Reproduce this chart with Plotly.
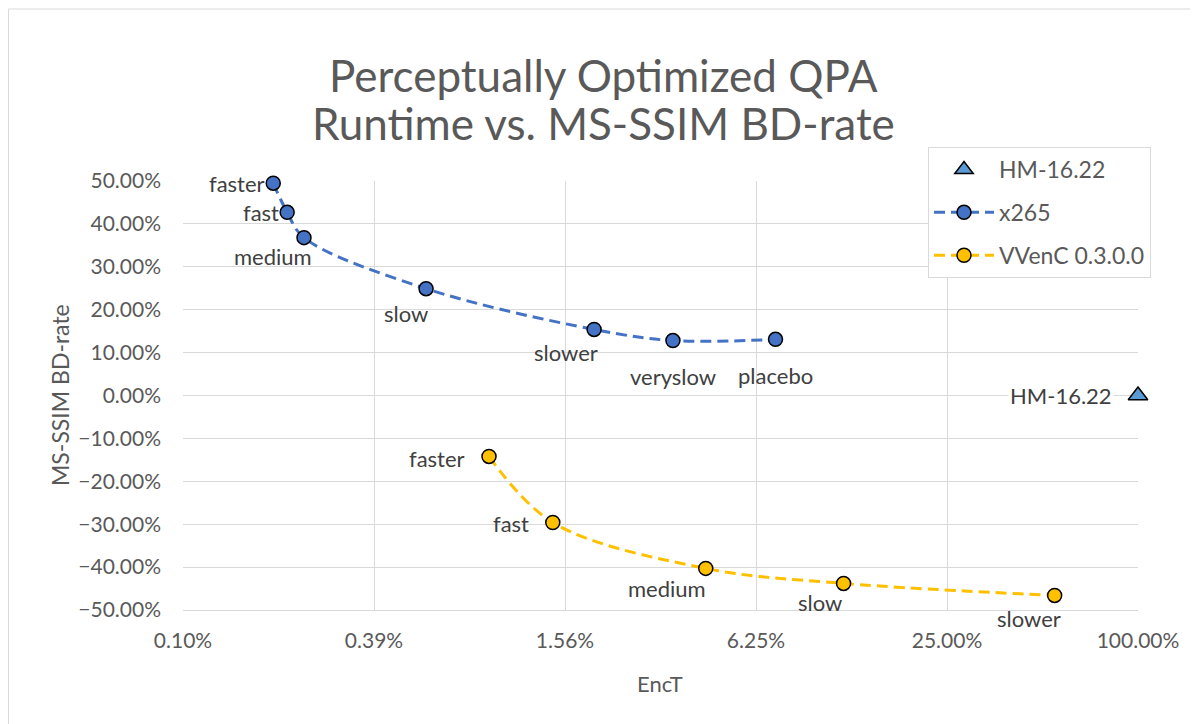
import math
import plotly.graph_objects as go

# ---- data ----
x265_presets = ["faster", "fast", "medium", "slow", "slower", "veryslow", "placebo"]
x265_enct = [0.00188, 0.00208, 0.00235, 0.0057, 0.0193, 0.0342, 0.072]
x265_bdrate = [0.495, 0.427, 0.368, 0.249, 0.154, 0.128, 0.131]

vvenc_presets = ["faster", "fast", "medium", "slow", "slower"]
vvenc_enct = [0.0090, 0.0143, 0.0434, 0.118, 0.546]
vvenc_bdrate = [-0.142, -0.296, -0.403, -0.438, -0.466]

hm_label = ["HM-16.22"]
hm_enct = [1.0]
hm_bdrate = [0.0]

x_tickvals = [4 ** -5, 4 ** -4, 4 ** -3, 4 ** -2, 4 ** -1, 1.0]
x_ticktext = ["0.10%", "0.39%", "1.56%", "6.25%", "25.00%", "100.00%"]

# ---- styling ----
FONT = "Lato"
TXT = "#595959"
LBL = "#404040"
GRID = "#d9d9d9"
BLUE = "#4472C4"
YEL = "#FFC000"
TRI = "#5B9BD5"
DASH = "11px,6px"

OFF = 8  # page body margin offset
W, H = 1198 - OFF, 724 - OFF
ML, MT = 183 - OFF, 181 - OFF
MR = W - (1138 - OFF)
MB = H - (610 - OFF)
PW, PH = W - ML - MR, H - MT - MB


def px2paper(px, py):
    # px, py given in screenshot coordinates
    return (px - OFF - ML) / PW, (H - MB - (py - OFF)) / PH


fig = go.Figure()

fig.add_trace(go.Scatter(
    x=hm_enct, y=hm_bdrate, mode="markers", name="HM-16.22",
    legendgroup="a",
    marker=dict(symbol="triangle-up", size=17, color=TRI,
                line=dict(color="black", width=1.5)),
    cliponaxis=False,
))
fig.add_trace(go.Scatter(
    x=x265_enct, y=x265_bdrate, mode="lines+markers", name="x265",
    legendgroup="b",
    line=dict(color=BLUE, width=3, dash=DASH, shape="spline"),
    marker=dict(symbol="circle", size=14, color=BLUE,
                line=dict(color="black", width=1.5)),
    cliponaxis=False,
))
fig.add_trace(go.Scatter(
    x=vvenc_enct, y=vvenc_bdrate, mode="lines+markers", name="VVenC 0.3.0.0",
    legendgroup="c",
    line=dict(color=YEL, width=3, dash=DASH, shape="spline"),
    marker=dict(symbol="circle", size=14, color=YEL,
                line=dict(color="black", width=1.5)),
    cliponaxis=False,
))

annotations = []

# data labels: (xanchor, xshift, yshift)
x265_off = [("right", -6, 0), ("right", -6, 0), ("center", -31, -19),
            ("center", -20, -25), ("center", -28, -23), ("center", 0, -36),
            ("center", 0, -36)]
vvenc_off = [("right", -22, -2), ("right", -22, -1), ("center", -39, -20),
             ("center", -24, -19), ("center", -26, -23)]

LBLSIZE = 22
for names, xs, ys, offs in [(x265_presets, x265_enct, x265_bdrate, x265_off),
                            (vvenc_presets, vvenc_enct, vvenc_bdrate, vvenc_off)]:
    for n, xv, yv, (xa, dx, dy) in zip(names, xs, ys, offs):
        annotations.append(dict(
            x=math.log10(xv), y=yv, xref="x", yref="y", text=n,
            showarrow=False, xanchor=xa, yanchor="middle",
            xshift=dx, yshift=dy,
            font=dict(family=FONT, size=LBLSIZE, color=LBL),
        ))

for n, xv, yv in zip(hm_label, hm_enct, hm_bdrate):
    annotations.append(dict(
        x=math.log10(xv), y=yv, xref="x", yref="y", text=n,
        showarrow=False, xanchor="right", yanchor="middle",
        xshift=-24, yshift=0, bgcolor="white",
        font=dict(family=FONT, size=LBLSIZE, color=LBL),
    ))

# title (two lines)
for line, cy in [("Perceptually Optimized QPA", 75),
                 ("Runtime vs. MS-SSIM BD-rate", 123)]:
    px, py = px2paper(603, cy)
    annotations.append(dict(
        x=px, y=py, xref="paper", yref="paper", text=line, showarrow=False,
        xanchor="center", yanchor="middle",
        font=dict(family=FONT, size=44, color=TXT),
    ))

# axis titles
px, py = px2paper(660, 683)
annotations.append(dict(x=px, y=py, xref="paper", yref="paper", text="EncT",
                        showarrow=False, xanchor="center", yanchor="middle",
                        font=dict(family=FONT, size=22, color=TXT)))
px, py = px2paper(60, 395)
annotations.append(dict(x=px, y=py, xref="paper", yref="paper",
                        text="MS-SSIM BD-rate", textangle=-90,
                        showarrow=False, xanchor="center", yanchor="middle",
                        font=dict(family=FONT, size=23, color=TXT)))

# outer chart border
bx0, by0 = px2paper(8.5, 9)
bx1, by1 = px2paper(1210, 740)
shapes = [dict(type="rect", xref="paper", yref="paper",
               x0=bx0, y0=by1, x1=bx1, y1=by0,
               line=dict(color=GRID, width=1), layer="below")]

lx, ly = px2paper(928, 147)

fig.update_layout(
    width=W, height=H,
    margin=dict(l=ML, r=MR, t=MT, b=MB, pad=0),
    paper_bgcolor="white", plot_bgcolor="white",
    font=dict(family=FONT, color=TXT),
    annotations=annotations,
    shapes=shapes,
    xaxis=dict(
        type="log",
        range=[math.log10(4 ** -5), 0],
        tickvals=x_tickvals, ticktext=x_ticktext,
        showgrid=True, gridcolor=GRID, gridwidth=1,
        showline=True, linecolor=GRID, linewidth=1,
        zeroline=False, ticks="",
        tickfont=dict(family=FONT, size=21, color=TXT),
        ticklabelstandoff=12,
    ),
    yaxis=dict(
        range=[-0.5, 0.5], dtick=0.1, tick0=0,
        tickformat=".2%",
        showgrid=True, gridcolor=GRID, gridwidth=1,
        showline=False, zeroline=False, ticks="",
        tickfont=dict(family=FONT, size=21, color=TXT),
        ticklabelstandoff=21,
    ),
    legend=dict(
        x=lx, y=ly, xanchor="left", yanchor="top",
        bordercolor=GRID, borderwidth=1, bgcolor="white",
        font=dict(family=FONT, size=23, color=TXT),
        traceorder="grouped", tracegroupgap=10,
        itemwidth=60,
    ),
    showlegend=True,
)

fig.write_html("out.html")
